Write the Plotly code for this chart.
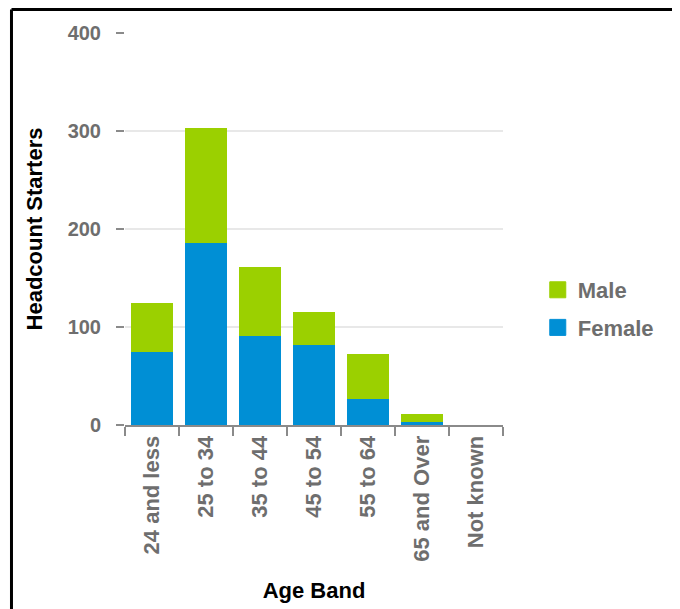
import plotly.graph_objects as go

categories = ["24 and less", "25 to 34", "35 to 44", "45 to 54", "55 to 64", "65 and Over", "Not known"]
female = [74, 186, 91, 82, 27, 3, 0]
male = [50, 117, 70, 33, 45, 8, 0]
y_ticks = [0, 100, 200, 300, 400]

GREEN = "#9BD000"
BLUE = "#008FD5"
FONT = "Liberation Sans, Arial, sans-serif"
GREY = "#6e6e6e"

fig = go.Figure()
fig.add_trace(go.Bar(x=categories, y=female, name="Female", marker=dict(color=BLUE, line=dict(width=0)),
                     showlegend=False))
fig.add_trace(go.Bar(x=categories, y=male, name="Male", marker=dict(color=GREEN, line=dict(width=0)),
                     showlegend=False))
# legend entries (Male listed first, as in the original)
fig.add_trace(go.Scatter(x=[None], y=[None], mode="markers", name="Male", legendgroup="m",
                         marker=dict(symbol="square", size=16, color=GREEN, line=dict(width=1, color=GREEN))))
fig.add_trace(go.Scatter(x=[None], y=[None], mode="markers", name="Female", legendgroup="f",
                         marker=dict(symbol="square", size=16, color=BLUE, line=dict(width=1, color=BLUE))))

fig.update_layout(
    width=680, height=609,
    margin=dict(l=117, r=185, t=25, b=192, autoexpand=False),
    barmode="stack", bargap=0.22,
    paper_bgcolor="white", plot_bgcolor="white",
    font=dict(family=FONT, color=GREY),
    showlegend=True,
    legend=dict(x=1.092, xanchor="left", y=0.398, yanchor="top", traceorder="grouped",
                tracegroupgap=6, font=dict(size=22, color=GREY, weight="bold"),
                bgcolor="rgba(0,0,0,0)"),
    xaxis=dict(
        title=dict(text="Age Band", font=dict(size=22, color="black", weight="bold"), standoff=22),
        tickangle=-90, tickfont=dict(size=22, color=GREY, weight="bold"),
        showline=True, linecolor="#8a8a8a", linewidth=2,
        ticks="outside", tickson="boundaries", ticklen=9, tickcolor="#8a8a8a", tickwidth=2,
        showgrid=False, fixedrange=True,
    ),
    yaxis=dict(
        title=dict(text="Headcount Starters", font=dict(size=22, color="black", weight="bold"), standoff=18),
        range=[0, 400], tickvals=y_ticks,
        tickfont=dict(size=20, color=GREY, weight="bold"),
        ticks="outside", ticklen=8, tickcolor="#8a8a8a", tickwidth=2, ticklabelstandoff=11,
        showgrid=True, gridcolor="#e8e8e8", gridwidth=2,
        zeroline=False, showline=False, fixedrange=True,
    ),
    shapes=[
        dict(type="line", xref="paper", yref="paper", x0=-0.3003, x1=1.6, y0=1.06, y1=1.06,
             line=dict(color="black", width=3)),
        dict(type="line", xref="paper", yref="paper", x0=-0.3003, x1=-0.3003, y0=1.06, y1=-0.6,
             line=dict(color="black", width=3)),
    ],
)

fig.write_html("out.html")
